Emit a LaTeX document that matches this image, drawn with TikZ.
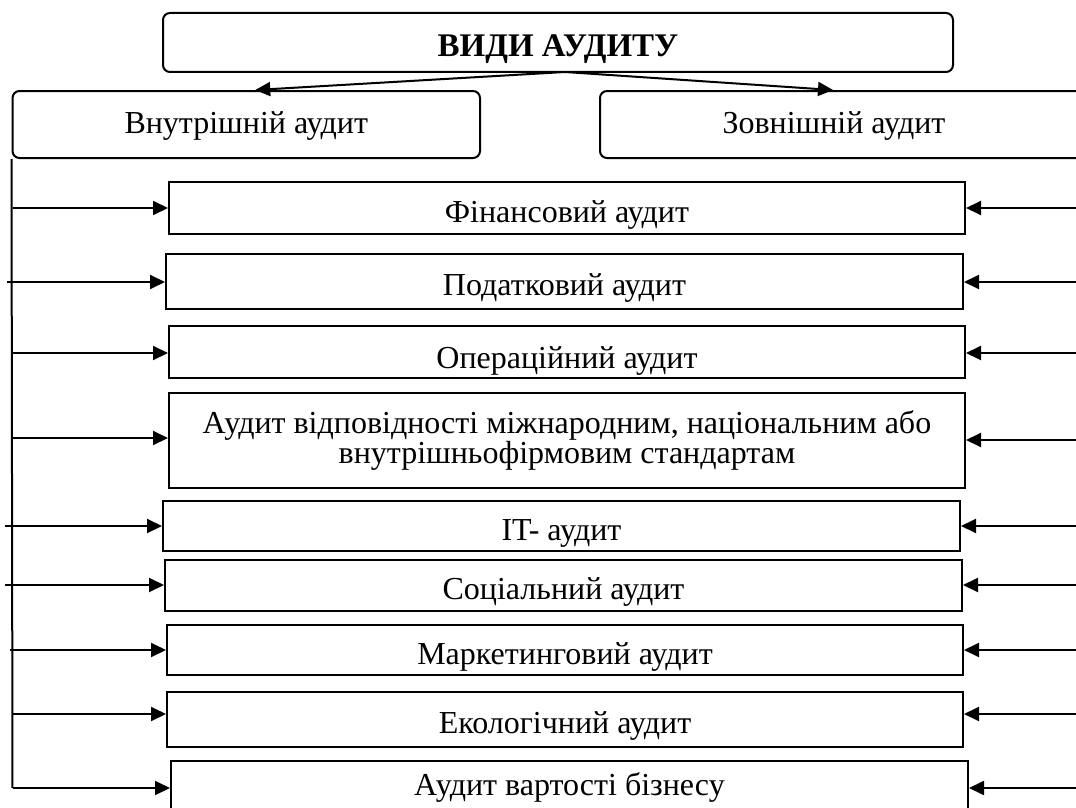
\documentclass[tikz,border=0pt]{standalone}
\usepackage{fontspec}
\setmainfont{Liberation Serif}
\usetikzlibrary{arrows.meta}

\begin{document}
\begin{tikzpicture}[x=1pt, y=-1pt,
        vid/.style={draw, line width=2pt, inner sep=0pt, font=\fontsize{32}{30}\selectfont, text height=28pt, text depth=0pt},
        rvid/.style={vid, rounded corners=7pt},
        arr/.style={line width=2pt, -{Triangle[length=15pt, width=14pt]}}]
        \useasboundingbox (0, 0) rectangle (1076, 808);
        \node[rvid, minimum width=790pt, minimum height=59pt, font=\bfseries\fontsize{33}{35}\selectfont] (vydy) at (558, 42.5) {ВИДИ АУДИТУ};
        \node[rvid, minimum width=467.5pt, minimum height=67pt, text height=17pt] (vnutr) at (246.25, 124.5) {Внутрішній аудит};
        \node[rvid, minimum width=490pt, minimum height=67pt, text height=17pt] (zovn) at (845, 124.5) {\hspace*{-22pt}Зовнішній аудит};
        \node[vid, minimum width=796pt, minimum height=52pt] (fin) at (567, 208) {Фінансовий аудит};
        \node[vid, minimum width=797pt, minimum height=55pt] (pod) at (564.5, 281.5) {Податковий аудит};
        \node[vid, minimum width=796pt, minimum height=52pt, text height=33pt] (oper) at (567, 352) {Операційний аудит};
        \node[vid, minimum width=796pt, minimum height=95pt, align=center, text height=45pt, text depth=0pt] (vidp) at (567, 440.5) {Аудит відповідності міжнародним, національним або\\внутрішньофірмовим стандартам};
        \node[vid, minimum width=797pt, minimum height=50pt] (it) at (561.5, 526) {IT- аудит};
        \node[vid, minimum width=797pt, minimum height=51pt] (soc) at (563.5, 585.5) {Соціальний аудит};
        \node[vid, minimum width=796pt, minimum height=50pt] (mark) at (565, 650) {Маркетинговий аудит};
        \node[vid, minimum width=796pt, minimum height=55pt] (eko) at (565, 719.5) {Екологічний аудит};
        \node[vid, minimum width=797pt, minimum height=60pt, text height=8pt] (vart) at (569.5, 791) {Аудит вартості бізнесу};
        % from the title
        \coordinate (split) at (565, 72);
        \draw[arr] (split) -- ([xshift=9pt]vnutr.north);
        \draw[arr] (split) -- ([xshift=-12pt]zovn.north);
        % left side
        \coordinate (lfin) at (12.5, 208);
        \coordinate (lpod) at (7, 282);
        \coordinate (loper) at (12.5, 353);
        \coordinate (lvidp) at (12.5, 438);
        \coordinate (lit) at (5, 526);
        \coordinate (lsoc) at (5, 585);
        \coordinate (lmark) at (10, 650);
        \coordinate (leko) at (12.5, 714);
        \coordinate (lvart) at (12.5, 788);
        \draw[line width=2pt] (vnutr.south west) -- (lvart);
        \foreach \b in {fin, pod, oper, vidp, it, soc, mark, eko, vart}
            \draw[arr] (l\b) -- (l\b -| \b.west);
        % right side
        \coordinate (rfin) at (1080, 208);
        \coordinate (rpod) at (1080, 282);
        \coordinate (roper) at (1080, 353);
        \coordinate (rvidp) at (1080, 440);
        \coordinate (rit) at (1080, 526);
        \coordinate (rsoc) at (1080, 585);
        \coordinate (rmark) at (1080, 650);
        \coordinate (reko) at (1080, 714);
        \coordinate (rvart) at (1080, 788);
        \foreach \b in {fin, pod, oper, vidp, it, soc, mark, eko, vart}
            \draw[arr] (r\b) -- (r\b -| \b.east);
    \end{tikzpicture}
\end{document}
